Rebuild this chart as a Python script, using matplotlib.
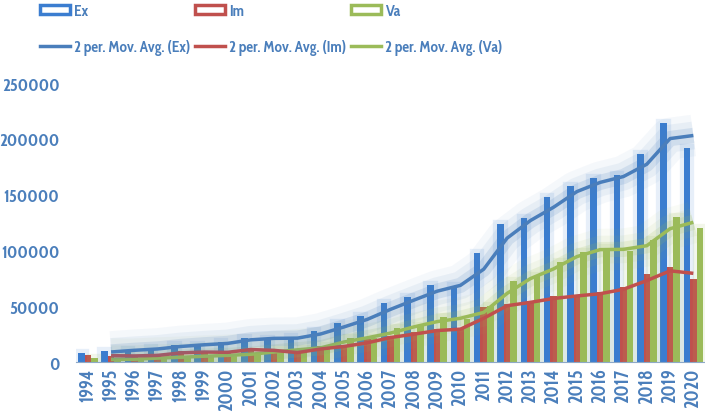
import numpy as np
import pandas as pd
import matplotlib
matplotlib.use("Agg")
import matplotlib.pyplot as plt
import matplotlib.patheffects as pe
from matplotlib.patches import Patch
from matplotlib.lines import Line2D

years = list(range(1994, 2021))
ex = [8000, 10100, 11000, 12500, 15500, 15500, 17900, 22000, 20500, 22400, 28000, 35000, 41500, 53000,
      58000, 69000, 68500, 98000, 124000, 129500, 148000, 157500, 164500, 168000, 186500, 214000, 192000]
im = [6000, 5500, 5500, 6500, 10000, 8000, 9500, 13000, 8000, 9000, 14500, 13500, 21000, 23000,
      27000, 29500, 29500, 49000, 52000, 55000, 59000, 59500, 63000, 67500, 78500, 85000, 74000]
va = [3600, 1500, 3500, 3600, 5000, 5500, 6500, 7500, 10500, 11500, 14000, 22000, 21500, 30500,
      32500, 40000, 38500, 50500, 72500, 77000, 90000, 99000, 102500, 99500, 109000, 130000, 120500]

df = pd.DataFrame({"Ex": ex, "Im": im, "Va": va}, index=years)
ma = df.rolling(2).mean()

colors = {"Ex": "#3b7dd0", "Im": "#c0504d", "Va": "#9bbb59"}
line_colors = {"Ex": "#4a7ebb", "Im": "#c0504d", "Va": "#9bbb59"}
txt = "#4a7ebb"
font = ["Cabin Condensed", "DejaVu Sans"]

fig = plt.figure(figsize=(7.05, 4.14), dpi=100)
ax = fig.add_axes([0.108, 0.123, 0.892, 0.674])

x = np.arange(len(years))
w = 0.28
for k, (name, off) in enumerate([("Ex", -w), ("Im", 0), ("Va", w)]):
    c = colors[name]
    glow = [pe.Stroke(linewidth=6, foreground=c, alpha=0.12), pe.Normal()]
    if name == "Im":
        glow = None
    ax.bar(x + off, df[name], width=w, color=c, zorder=2 + k * 0.1,
           path_effects=glow)

for name in ["Va", "Im", "Ex"]:
    c = line_colors[name]
    glow = [pe.Stroke(linewidth=30, foreground=c, alpha=0.05),
            pe.Stroke(linewidth=20, foreground=c, alpha=0.08),
            pe.Stroke(linewidth=11, foreground=c, alpha=0.15), pe.Normal()]
    if name == "Im":
        glow = None
    ax.plot(x, ma[name], color=c, lw=2.5, zorder=4, path_effects=glow,
            solid_capstyle="butt")

ax.set_xlim(-0.5, len(years) - 0.5)
ax.set_ylim(0, 250000)
ax.set_yticks(np.arange(0, 250001, 50000))
ax.set_xticks(x)
ax.set_xticklabels(years, rotation=90)
for s in ["top", "right", "left"]:
    ax.spines[s].set_visible(False)
ax.spines["bottom"].set_color("#8ea9c8")
ax.tick_params(axis="both", length=0, labelcolor=txt)
ax.tick_params(axis="y", pad=12)
ax.tick_params(axis="x", pad=4)
for lab in ax.get_yticklabels():
    lab.set_family(font)
    lab.set_fontweight("bold")
    lab.set_fontsize(12.5)
for lab in ax.get_xticklabels():
    lab.set_family(font)
    lab.set_fontweight("bold")
    lab.set_fontsize(13.5)

handles = [Patch(facecolor="white", edgecolor=colors["Ex"], linewidth=2.5, label="Ex"),
           Line2D([], [], color=line_colors["Ex"], lw=2.5, label="2 per. Mov. Avg. (Ex)"),
           Patch(facecolor="white", edgecolor=colors["Im"], linewidth=2.5, label="Im"),
           Line2D([], [], color=line_colors["Im"], lw=2.5, label="2 per. Mov. Avg. (Im)"),
           Patch(facecolor="white", edgecolor=colors["Va"], linewidth=2.5, label="Va"),
           Line2D([], [], color=line_colors["Va"], lw=2.5, label="2 per. Mov. Avg. (Va)")]
leg = fig.legend(handles=handles, ncol=3, loc="upper left", bbox_to_anchor=(0.057, 0.99),
                 frameon=False, borderpad=0, borderaxespad=0, handlelength=1.95,
                 handleheight=0.55, handletextpad=0.25, columnspacing=0.35, labelspacing=1.3,
                 prop={"family": font, "weight": "bold", "size": 11})
for t in leg.get_texts():
    t.set_color(txt)

fig.savefig("out.png", dpi=100)
